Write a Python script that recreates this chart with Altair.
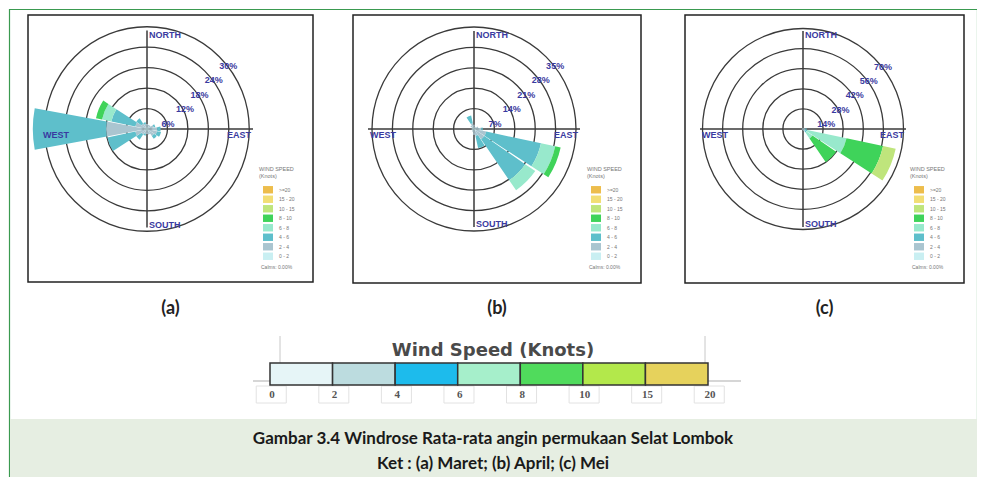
import math
import altair as alt
import pandas as pd

# ---------------- data ----------------
directions = ["N", "NNE", "NE", "ENE", "E", "ESE", "SE", "SSE",
              "S", "SSW", "SW", "WSW", "W", "WNW", "NW", "NNW"]
direction_deg = [0.0, 22.5, 45.0, 67.5, 90.0, 112.5, 135.0, 157.5,
                 180.0, 202.5, 225.0, 247.5, 270.0, 292.5, 315.0, 337.5]
speed_classes = ["0 - 2", "2 - 4", "4 - 6", "6 - 8", "8 - 10", "10 - 15", "15 - 20", ">=20"]

# frequency (%) per direction, one value per speed class (0-2, 2-4, 4-6, ...)
maret = {
    "N": [0.5, 1.0], "NNE": [0.5, 0.8], "NE": [0.5, 0.8], "ENE": [0.5, 1.5, 0.5],
    "E": [0.5, 2.5, 1.0], "ESE": [0.5, 2.5, 1.2], "SE": [0.5, 2.0, 1.0], "SSE": [0.5, 1.2],
    "S": [0.5, 1.0], "SSW": [0.5, 1.0, 0.5], "SW": [0.5, 1.5, 1.8], "WSW": [0.5, 3.0, 8.4],
    "W": [1.0, 11.0, 21.5], "WNW": [0.5, 3.0, 7.2, 2.8, 1.8], "NW": [0.5, 1.5, 1.8], "NNW": [0.5, 1.0, 0.5],
}
april = {
    "N": [0.5, 1.0], "NNE": [0.3, 0.5], "NE": [0.3, 0.5], "ENE": [0.5, 1.0],
    "E": [0.5, 2.0, 0.5], "ESE": [0.8, 3.5, 19.2, 5.0, 1.9], "SE": [0.8, 3.5, 17.0, 4.2], "SSE": [0.5, 2.0, 4.2],
    "S": [0.5, 1.5], "SSW": [0.3, 0.8], "SW": [0.3, 0.5], "WSW": [0.3, 0.5],
    "W": [0.3, 0.5], "WNW": [0.3, 0.5], "NW": [0.5, 1.0], "NNW": [0.5, 1.5, 2.7],
}
mei = {
    "N": [0.3, 0.5], "NNE": [0.3, 0.5], "NE": [0.3, 0.5], "ENE": [0.3, 0.7],
    "E": [0.5, 1.0, 1.0], "ESE": [0.5, 1.0, 1.5, 28.0, 26.0, 9.0], "SE": [0.5, 1.0, 1.5, 5.0, 20.0], "SSE": [0.5, 1.0],
    "S": [0.3, 0.5], "SSW": [0.3, 0.5], "SW": [0.3, 0.5], "WSW": [0.3, 0.5],
    "W": [0.3, 0.5], "WNW": [0.3, 0.5], "NW": [0.3, 0.5], "NNW": [0.3, 0.5],
}
rings_maret = [6, 12, 18, 24, 30]
rings_april = [7, 14, 21, 28, 35]
rings_mei = [14, 28, 42, 56, 70]
panel_letters = ["(a)", "(b)", "(c)"]
calms_text = "Calms: 0.00%"

bar_segments = ["0-2", "2-4", "4-6", "6-8", "8-10", "10-15", "15-20"]
bar_ticks = ["0", "2", "4", "6", "8", "10", "15", "20"]
bar_title = "Wind Speed (Knots)"
caption_title = "Gambar 3.4 Windrose Rata-rata angin permukaan Selat Lombok"
caption_note = "Ket : (a) Maret; (b) April; (c) Mei"

# ---------------- styles / layout ----------------
class_colors = ["#c9eff2", "#aac5d0", "#5ebfcb", "#98e9cc", "#3fd35a", "#bfe57c", "#f2de74", "#edbd4c"]
bar_colors = ["#e6f5f7", "#bcdcdf", "#1dbbec", "#a6efcb", "#50db5c", "#b3e84b", "#e6d25c"]
BLUE = "#3a3aa0"
W, H = 969, 469
HALF = 10.5  # petal half width in degrees

panels = [
    dict(freq=maret, rings=rings_maret, cx=138, cy=120, hr=106, vr=98.5, box=(19, 304, 6, 273)),
    dict(freq=april, rings=rings_april, cx=465, cy=120, hr=106, vr=98, box=(344, 632, 6, 274)),
    dict(freq=mei, rings=rings_mei, cx=794, cy=120, hr=103, vr=98, box=(676, 955, 6, 274)),
]


def one():
    return pd.DataFrame({"k": [0]})


def text_at(x, y, txt, **kw):
    return alt.Chart(one()).mark_text(text=txt, **kw).encode(x=alt.value(x), y=alt.value(y))


def hline(x0, x1, y, color, w):
    return alt.Chart(one()).mark_rule(color=color, strokeWidth=w).encode(
        x=alt.value(x0), x2=alt.value(x1), y=alt.value(y))


def vline(x, y0, y1, color, w):
    return alt.Chart(one()).mark_rule(color=color, strokeWidth=w).encode(
        x=alt.value(x), y=alt.value(y0), y2=alt.value(y1))


def panel(p):
    cx, cy, hr, vr = p["cx"], p["cy"], p["hr"], p["vr"]
    R = (hr + vr) / 2
    rings = p["rings"]
    rows = []
    for d, ang in zip(directions, direction_deg):
        cum = 0.0
        for cls, v in zip(speed_classes, p["freq"].get(d, [])):
            if v > 0:
                rows.append(dict(dir=d, cls=cls, t0=ang - HALF, t1=ang + HALF, r0=cum, r1=cum + v))
            cum += v
    df = pd.DataFrame(rows)
    rscale = alt.Scale(type="linear", domain=[0, rings[-1]], range=[0, R], zero=True, nice=False)
    tscale = alt.Scale(type="linear", domain=[0, 360], range=[0, 2 * math.pi], zero=False, nice=False)
    cscale = alt.Scale(domain=speed_classes, range=class_colors)

    ring_df = pd.DataFrame({"ring": rings, "label": [f"{r}%" for r in rings]})
    ring_layer = alt.Chart(ring_df).mark_arc(filled=False, stroke="#3a3a3a", strokeWidth=1.3).encode(
        theta=alt.value(0), theta2=alt.value(6.2832),
        radius=alt.Radius("ring:Q", scale=rscale, stack=False),
        x=alt.value(cx), y=alt.value(cy))
    petals = alt.Chart(df).mark_arc(strokeWidth=0).encode(
        theta=alt.Theta("t0:Q", scale=tscale, stack=False), theta2="t1:Q",
        radius=alt.Radius("r1:Q", scale=rscale, stack=False), radius2="r0:Q",
        color=alt.Color("cls:N", scale=cscale, legend=None),
        x=alt.value(cx), y=alt.value(cy))
    ring_labels = alt.Chart(ring_df).mark_text(
        align="left", baseline="top", dy=5, font="Liberation Sans", fontWeight="bold",
        fontSize=9, color=BLUE).encode(
        theta=alt.value(math.pi / 4),
        radius=alt.Radius("ring:Q", scale=rscale, stack=False),
        text="label:N", x=alt.value(cx), y=alt.value(cy))

    lab_kw = dict(font="Liberation Sans", fontWeight="bold", fontSize=9, color=BLUE, baseline="middle")
    x0, x1, y0, y1 = p["box"]
    layers = [
        ring_layer,
        hline(cx - hr, cx + hr, cy, "#3a3a3a", 1.5),
        vline(cx, cy - vr, cy + vr, "#3a3a3a", 1.5),
        petals,
        ring_labels,
        text_at(cx + 2, cy - vr + 4, "NORTH", align="left", **lab_kw),
        text_at(cx + 2, cy + vr - 3, "SOUTH", align="left", **lab_kw),
        text_at(cx - hr + 2, cy + 6, "WEST", align="left", **lab_kw),
        text_at(cx + hr - 2, cy + 6, "EAST", align="right", **lab_kw),
        alt.Chart(one()).mark_rect(filled=False, stroke="#222", strokeWidth=1.5).encode(
            x=alt.value(x0), x2=alt.value(x1), y=alt.value(y0), y2=alt.value(y1)),
    ]
    # small internal legend
    leg_df = pd.DataFrame({"cls": speed_classes})
    yscale = alt.Scale(domain=list(reversed(speed_classes)), range=[176, 252], paddingInner=0.22)
    layers += [
        alt.Chart(leg_df).mark_rect().encode(
            x=alt.value(x1 - 50), x2=alt.value(x1 - 40),
            y=alt.Y("cls:N", scale=yscale, axis=None),
            color=alt.Color("cls:N", scale=cscale, legend=None)),
        alt.Chart(leg_df).mark_text(align="left", baseline="middle", fontSize=5, color="#777",
                                    font="Liberation Sans").encode(
            x=alt.value(x1 - 34), y=alt.Y("cls:N", scale=yscale, axis=None), text="cls:N"),
        text_at(x1 - 54, 160, "WIND SPEED", align="left", fontSize=5.5, color="#777", font="Liberation Sans"),
        text_at(x1 - 54, 167, "(Knots)", align="left", fontSize=5.5, color="#777", font="Liberation Sans"),
        text_at(x1 - 52, 258, calms_text, align="left", fontSize=5, color="#777", font="Liberation Sans"),
    ]
    return alt.layer(*layers)


layers = [
    hline(0, W, 0.5, "#3a9a50", 1.2),
    vline(0.5, 0, H, "#3a9a50", 1.2),
    vline(W - 0.5, 0, H, "#3a9a50", 1.2),
    alt.Chart(one()).mark_rect(color="#e6eee2").encode(
        x=alt.value(1), x2=alt.value(W - 1), y=alt.value(410), y2=alt.value(H)),
]
for p in panels:
    layers.append(panel(p))
for p, letter in zip(panels, panel_letters):
    x0, x1, _, _ = p["box"]
    layers.append(text_at((x0 + x1) / 2, 300, letter, font="Lato", fontWeight="bold",
                          fontSize=18, color="#222", baseline="middle"))

# bottom legend bar
xscale = alt.Scale(domain=[0, 7], range=[261, 699], nice=False, zero=False)
bar_df = pd.DataFrame({"seg": bar_segments, "s0": list(range(len(bar_segments))),
                       "s1": list(range(1, len(bar_segments) + 1))})
tick_df = pd.DataFrame({"tick": bar_ticks, "pos": list(range(len(bar_ticks)))})
tick_df["p0"] = tick_df["pos"] - 0.22
tick_df["p1"] = tick_df["pos"] + 0.26
layers += [
    vline(271, 327, 354, "#c8c8c8", 1),
    vline(696, 327, 354, "#c8c8c8", 1),
    hline(244, 261, 372, "#c8c8c8", 1.5),
    hline(699, 732, 372, "#c8c8c8", 1.5),
    text_at(484, 342, bar_title, font="DejaVu Sans", fontWeight="bold", fontSize=18,
            color="#4a4a4a", baseline="middle"),
    alt.Chart(tick_df).mark_rect(fill="white", stroke="#e2e2e2", strokeWidth=1).encode(
        x=alt.X("p0:Q", scale=xscale, axis=None), x2="p1:Q", y=alt.value(377), y2=alt.value(394)),
    alt.Chart(bar_df).mark_rect(stroke="#333", strokeWidth=1.5).encode(
        x=alt.X("s0:Q", scale=xscale, axis=None), x2="s1:Q",
        y=alt.value(354), y2=alt.value(376),
        color=alt.Color("seg:N", scale=alt.Scale(domain=bar_segments, range=bar_colors), legend=None)),
    alt.Chart(tick_df).mark_text(font="Liberation Serif", fontWeight="bold", fontSize=11,
                                 color="#555", dx=2, baseline="middle").encode(
        x=alt.X("pos:Q", scale=xscale, axis=None), y=alt.value(386), text="tick:N"),
    text_at(484, 430, caption_title, font="Lato", fontWeight="bold", fontSize=17,
            color="#1a1a1a", baseline="middle"),
    text_at(484, 455, caption_note, font="Lato", fontWeight="bold", fontSize=17,
            color="#1a1a1a", baseline="middle"),
]

chart = alt.layer(*layers).resolve_scale(
    theta="independent", radius="independent", color="independent",
    x="independent", y="independent"
).properties(
    width=W, height=H, padding=0,
    autosize=alt.AutoSizeParams(type="fit", contains="padding"),
).configure_view(strokeWidth=0)

chart.save("out.html", embed_options={"renderer": "svg", "actions": False})
